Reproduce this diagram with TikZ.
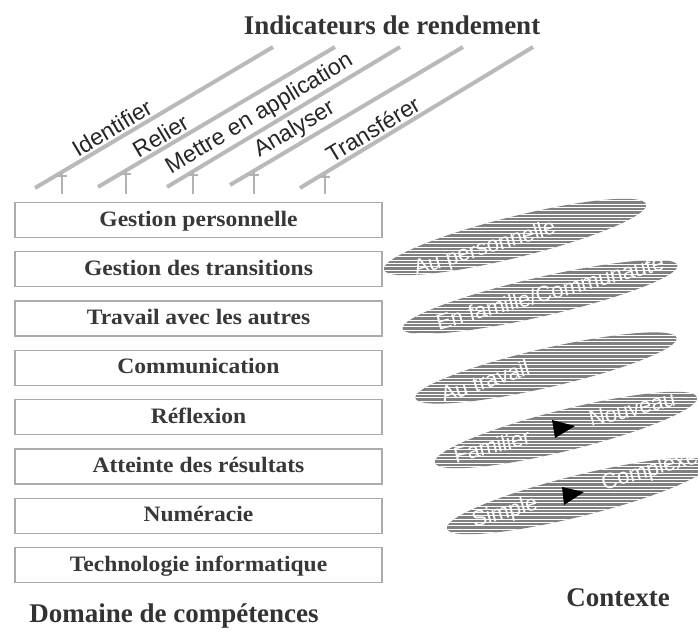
\documentclass[tikz,border=0pt]{standalone}
\usepackage{fontspec}
\setmainfont{Liberation Serif}
\newfontfamily\lsans{Liberation Sans}
\newfontfamily\boxfont[FakeStretch=1.07]{Liberation Serif}
\newcommand\stripedellipse[5]{%
  \begin{scope}
    \clip[rotate around={#5:(#1,#2)}] (#1,#2) ellipse [x radius=#3, y radius=#4];
    \fill[gray] (#1-#3-5,#2-#3) rectangle (#1+#3+5,#2+#3);
    \foreach \k in {-15,...,15}
      \draw[white, line width=0.75pt] (#1-#3-5,#2+\k*3.3) -- (#1+#3+5,#2+\k*3.3);
  \end{scope}}
\begin{document}
\begin{tikzpicture}[x=1pt,y=-1pt,
  comp/.style={draw=gray!65, line width=1.3pt, fill=white, minimum width=367pt,
    minimum height=35pt, inner sep=0pt, text height=16pt, text depth=4pt,
    font=\boxfont\bfseries\fontsize{22}{22}\selectfont, text=black!78},
  head/.style={font=\bfseries\fontsize{27}{27}\selectfont, text=black!80, anchor=base},
  rail/.style={gray!55, line width=4pt},
  stub/.style={gray!60, line width=2pt},
  lbl/.style={font=\lsans\fontsize{23}{23}\selectfont, text=black!85, sloped, above=1pt, inner sep=1pt},
  ctx/.style={font=\lsans\fontsize{22}{22}\selectfont, text=white, inner sep=0pt},
  tri/.style={fill=black}
]
\useasboundingbox (0,0) rectangle (698,636);

% headings
\node[head] (ind) at (392,35) {Indicateurs de rendement};
\node[head] (dom) at (174,622) {Domaine de compétences};
\node[head] (ctxt) at (618,606) {Contexte};

% rails with labels
\coordinate (r1a) at (35,188);  \coordinate (r1b) at (273,47);
\coordinate (r2a) at (98,187);  \coordinate (r2b) at (335,47);
\coordinate (r3a) at (167,187); \coordinate (r3b) at (400,47);
\coordinate (r4a) at (230,185); \coordinate (r4b) at (463,47);
\coordinate (r5a) at (300,188); \coordinate (r5b) at (533,47);
\draw[rail] (r1a) -- (r1b) node[lbl,pos=0.35] (l1) {Identifier};
\draw[rail] (r2a) -- (r2b) node[lbl,pos=0.29] (l2) {Relier};
\draw[rail] (r3a) -- (r3b) node[lbl,pos=0.43] (l3) {Mettre en application};
\draw[rail] (r4a) -- (r4b) node[lbl,pos=0.31] (l4) {Analyser};
\draw[rail] (r5a) -- (r5b) node[lbl,pos=0.34] (l5) {Transférer};

% T stubs
\foreach \x/\y in {62/172,126/170.5,193/171.4,254/170.8,325/172.9}{
  \draw[stub] (\x,\y) -- (\x,194);
  \draw[stub] (\x-5,\y+4) -- (\x+5,\y+4);
}

% competence boxes
\foreach \t [count=\i from 0] in {Gestion personnelle,Gestion des transitions,Travail avec les autres,Communication,Réflexion,Atteinte des résultats,Numéracie,Technologie informatique}
  \node[comp] (b\i) at (198.5,{220+49.29*\i}) {\t};

% context ellipses
\stripedellipse{515}{237}{135}{20.5}{14}
\stripedellipse{540}{297}{141}{19.5}{13}
\stripedellipse{546}{368}{134}{19.5}{13}
\stripedellipse{566}{430}{135}{20.5}{14}
\stripedellipse{578}{496}{135}{20.5}{14}

\node[ctx, rotate=17] (e1) at (485,249) {Au personnelle};
\node[ctx, rotate=15] (e2) at (550,292) {En famille/Communauté};
\node[ctx, rotate=18] (e3) at (485,381) {Au travail};
\node[ctx, rotate=14] (e4a) at (492,446) {Familier};
\node[ctx, rotate=14] (e4b) at (632,409) {Nouveau};
\node[ctx, rotate=16] (e5a) at (505,513) {Simple};
\node[ctx, rotate=16] (e5b) at (650,471) {Complexe};

\fill[tri] (552,420) -- (575,426) -- (555,438) -- cycle;
\fill[tri] (562,487) -- (584,492) -- (564,505) -- cycle;
\end{tikzpicture}
\end{document}
